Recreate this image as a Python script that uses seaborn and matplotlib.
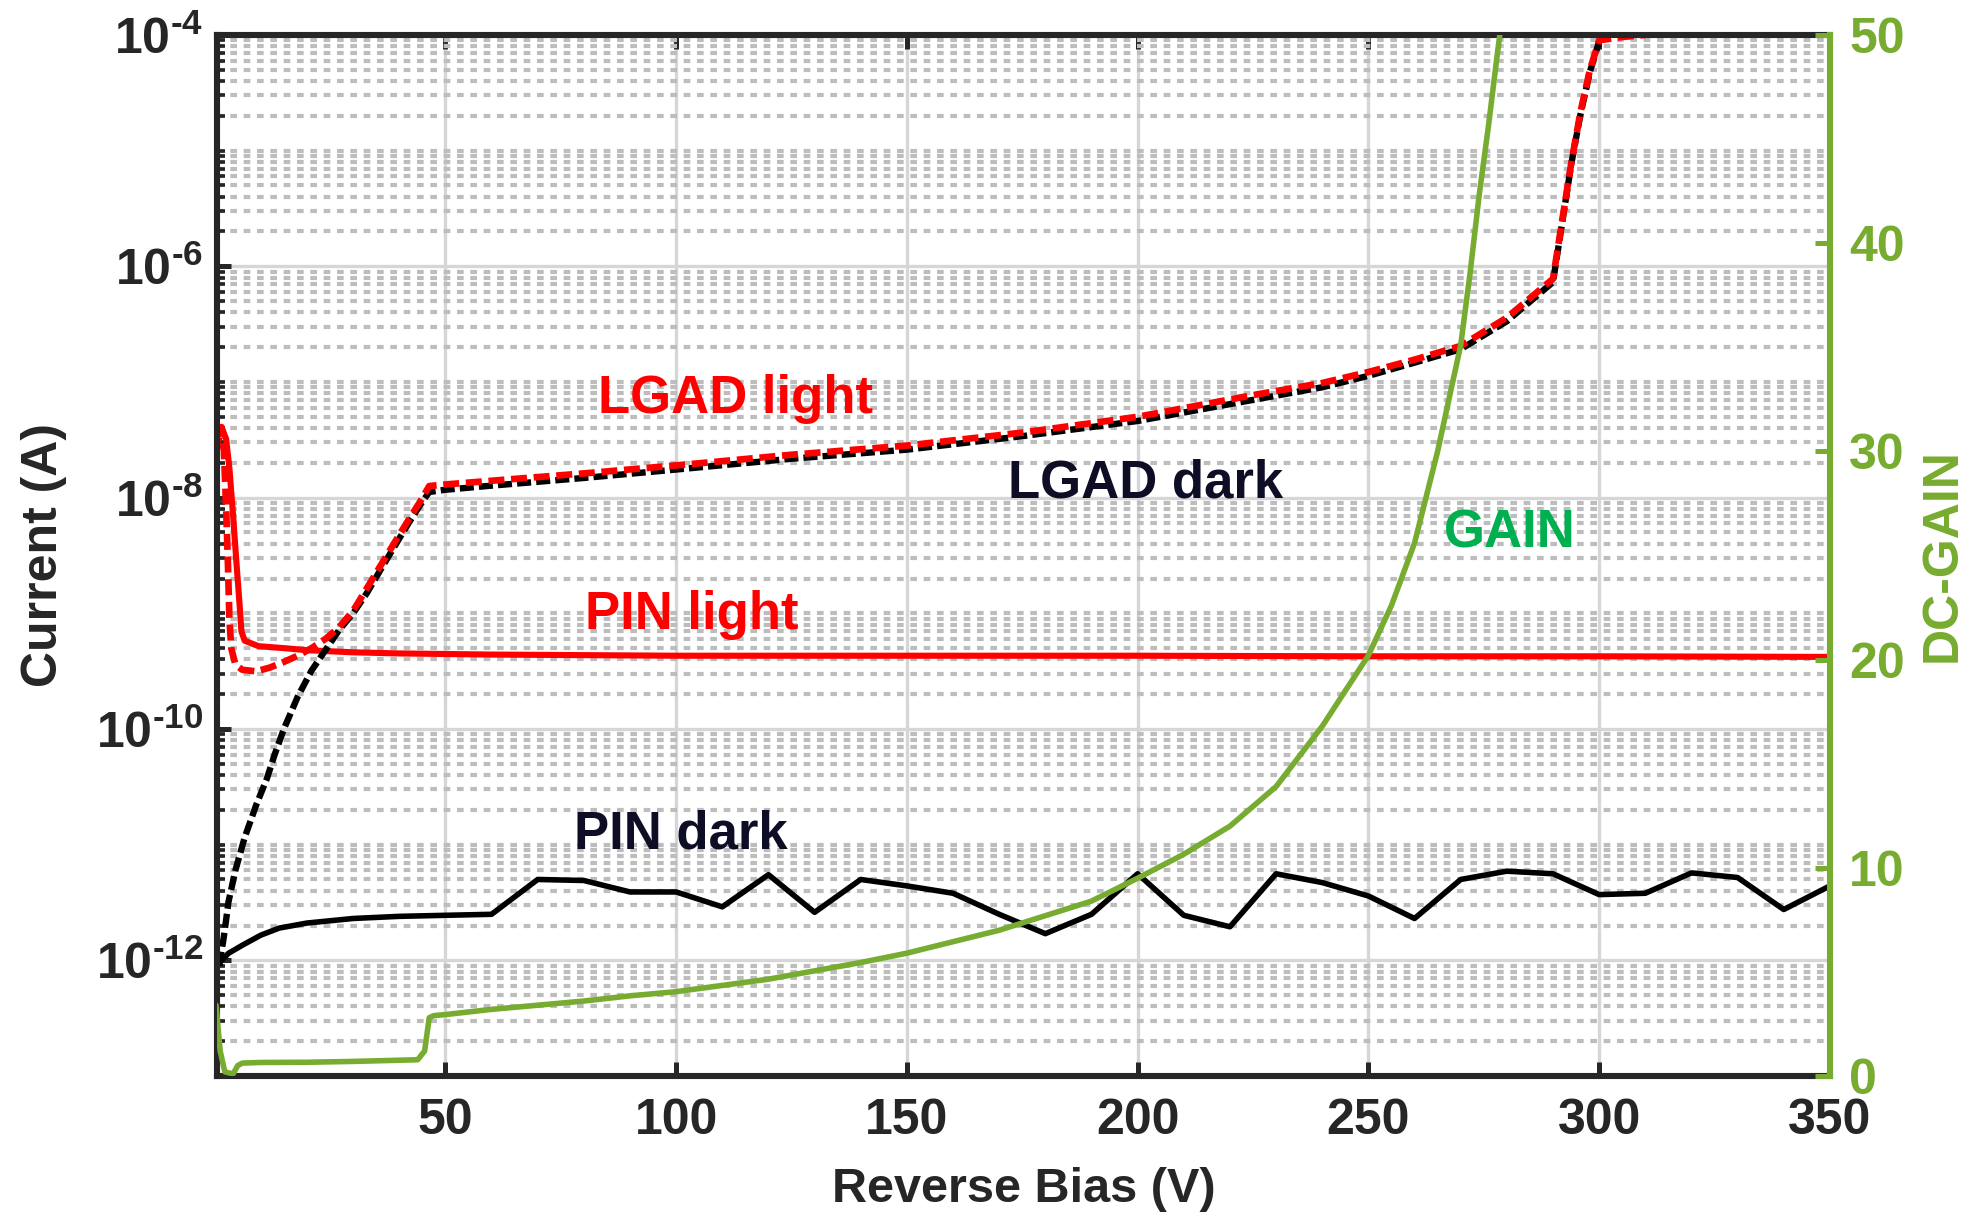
import matplotlib
matplotlib.use("Agg")
import matplotlib.pyplot as plt
import seaborn as sns
from matplotlib.ticker import FixedLocator, FixedFormatter, NullLocator, NullFormatter

# ---------------- data ----------------
# PIN diode, dark current (A) vs reverse bias (V)
pin_dark_v = [1, 3, 6, 10, 14, 20, 30, 40, 50, 60, 70, 80, 90, 100, 110, 120, 130, 140,
              150, 160, 170, 180, 190, 200, 210, 220, 230, 240, 250, 260, 270, 280, 290,
              300, 310, 320, 330, 340, 350]
pin_dark_i = [9.5e-13, 1.15e-12, 1.35e-12, 1.65e-12, 1.9e-12, 2.1e-12, 2.3e-12, 2.4e-12,
              2.45e-12, 2.5e-12, 5.0e-12, 4.9e-12, 3.9e-12, 3.9e-12, 2.9e-12, 5.5e-12,
              2.6e-12, 5.0e-12, 4.4e-12, 3.8e-12, 2.5e-12, 1.7e-12, 2.5e-12, 5.6e-12,
              2.45e-12, 1.95e-12, 5.6e-12, 4.7e-12, 3.6e-12, 2.3e-12, 5.0e-12, 5.9e-12,
              5.6e-12, 3.7e-12, 3.8e-12, 5.7e-12, 5.2e-12, 2.75e-12, 4.4e-12]

# PIN diode under illumination
pin_light_v = [0.5, 1.5, 2.5, 3.2, 4.0, 4.8, 5.4, 5.8, 6.5, 9.5, 15, 20, 30, 40, 60, 100,
               150, 200, 250, 300, 350]
pin_light_i = [3.4e-8, 4.1e-8, 3.2e-8, 1.8e-8, 7e-9, 2.5e-9, 1.2e-9, 7e-10, 5.8e-10,
               5.2e-10, 5.0e-10, 4.8e-10, 4.6e-10, 4.5e-10, 4.4e-10, 4.3e-10, 4.3e-10,
               4.3e-10, 4.25e-10, 4.25e-10, 4.2e-10]

# LGAD, dark current
lgad_dark_v = [1.0, 2.0, 3.0, 4.5, 6.5, 9, 11.3, 13, 15, 18, 21, 24, 27, 30, 33, 36, 39,
               42, 44.5, 46.5, 50, 60, 80, 100, 125, 150, 175, 200, 225, 240, 250, 260,
               270, 280, 290, 292, 294, 296, 298, 300]
lgad_dark_i = [9e-13, 1.6e-12, 3.2e-12, 6e-12, 1.15e-11, 2.2e-11, 3.7e-11, 6e-11, 1.0e-10,
               1.9e-10, 3.2e-10, 4.8e-10, 7.2e-10, 1.0e-9, 1.5e-9, 2.4e-9, 3.8e-9, 6.0e-9,
               8.6e-9, 1.12e-8, 1.17e-8, 1.27e-8, 1.48e-8, 1.75e-8, 2.17e-8, 2.6e-8,
               3.4e-8, 4.6e-8, 7.0e-8, 9.0e-8, 1.13e-7, 1.47e-7, 1.92e-7, 3.35e-7, 7.3e-7,
               2.4e-6, 7.8e-6, 2.1e-5, 4.8e-5, 8.8e-5]

# LGAD under illumination
lgad_light_v = [0.5, 1.2, 2.0, 2.5, 2.9, 3.2, 3.6, 4.5, 6, 9, 12, 15, 18, 21, 24, 27, 30,
                33, 36, 39, 42, 44.5, 46.5, 50, 60, 80, 100, 125, 150, 175, 200, 225,
                240, 250, 260, 270, 280, 290, 292, 294, 296, 298, 300, 305, 310]
lgad_light_i = [3.0e-8, 3.4e-8, 2.6e-8, 8e-9, 2.5e-9, 9e-10, 5e-10, 3.6e-10, 3.25e-10,
                3.15e-10, 3.4e-10, 3.8e-10, 4.3e-10, 5.0e-10, 6.0e-10, 7.6e-10, 1.05e-9,
                1.65e-9, 2.6e-9, 4.1e-9, 6.4e-9, 9.2e-9, 1.26e-8, 1.3e-8, 1.4e-8, 1.62e-8,
                1.9e-8, 2.35e-8, 2.82e-8, 3.65e-8, 5.0e-8, 7.7e-8, 9.8e-8, 1.22e-7,
                1.56e-7, 2.05e-7, 3.6e-7, 7.8e-7, 2.5e-6, 8e-6, 2.2e-5, 5e-5, 9.0e-5,
                9.6e-5, 1.0e-4]

# DC gain (right axis)
gain_v = [0.3, 1.2, 2.2, 4, 5, 6, 10, 20, 30, 44, 45.5, 46.5, 47.5, 50, 60, 70, 80, 90,
          100, 110, 120, 130, 140, 150, 160, 170, 180, 190, 200, 210, 220, 230, 240, 250,
          255, 260, 265, 270, 272, 274, 276, 278, 280]
gain_val = [3.4, 1.2, 0.2, 0.1, 0.5, 0.62, 0.65, 0.66, 0.7, 0.78, 1.2, 2.8, 2.9, 2.95,
            3.2, 3.4, 3.6, 3.85, 4.05, 4.35, 4.65, 5.05, 5.45, 5.9, 6.45, 7.0, 7.7, 8.4,
            9.5, 10.65, 12.0, 13.9, 16.8, 20.2, 22.6, 25.6, 30.0, 35.1, 38.5, 42.3, 45.6,
            49.2, 52.6]

# ticks
x_ticks = [50, 100, 150, 200, 250, 300, 350]
x_tick_labels = ["50", "100", "150", "200", "250", "300", "350"]
y_major = [1e-12, 1e-10, 1e-8, 1e-6, 1e-4]
y_tick_labels = ["$10^{\u201012}$", "$10^{\u201010}$", "$10^{\u20108}$",
                 "$10^{\u20106}$", "$10^{\u20104}$"]
gain_ticks = [0, 10, 20, 30, 40, 50]
gain_tick_labels = ["0", "10", "20", "30", "40", "50"]

# ---------------- style ----------------
sns.set_theme(style="white")
plt.rcParams["font.family"] = ["Liberation Sans", "DejaVu Sans"]
plt.rcParams["font.weight"] = "bold"
plt.rcParams["mathtext.fontset"] = "custom"
plt.rcParams["mathtext.rm"] = "Liberation Sans:bold"
plt.rcParams["mathtext.it"] = "Liberation Sans:bold"
plt.rcParams["mathtext.bf"] = "Liberation Sans:bold"
plt.rcParams["mathtext.default"] = "rm"

AX_COLOR = "#262626"
GREEN = "#77ac30"
DARK_TXT = "#0d0d26"

fig = plt.figure(figsize=(9.87, 6.115), dpi=200)
ax = fig.add_axes([0.1099, 0.1202, 0.8171, 0.8512])
ax.set_yscale("log")

# current curves
sns.lineplot(x=pin_dark_v, y=pin_dark_i, ax=ax, color="black", linewidth=2.0,
             estimator=None, sort=False, legend=False)
sns.lineplot(x=pin_light_v, y=pin_light_i, ax=ax, color="#ff0000", linewidth=2.2,
             estimator=None, sort=False, legend=False)
sns.lineplot(x=lgad_dark_v, y=lgad_dark_i, ax=ax, color="black", linewidth=2.3,
             linestyle=(0, (2.2, 0.8)), estimator=None, sort=False, legend=False)
sns.lineplot(x=lgad_light_v, y=lgad_light_i, ax=ax, color="#ff0000", linewidth=2.4,
             linestyle=(1.2, (2.4, 1.0)), estimator=None, sort=False, legend=False)

ax.set_xlim(0.5, 350)
ax.set_ylim(1e-13, 1e-4)

ax.xaxis.set_major_locator(FixedLocator(x_ticks))
ax.xaxis.set_major_formatter(FixedFormatter(x_tick_labels))
ax.xaxis.set_minor_locator(NullLocator())
ax.yaxis.set_major_locator(FixedLocator(y_major))
ax.yaxis.set_major_formatter(FixedFormatter(y_tick_labels))
y_minor = [m * 10.0 ** e for e in range(-13, -4) for m in range(1, 10)
           if not (m == 1 and 10.0 ** e in y_major)]
ax.yaxis.set_minor_locator(FixedLocator(y_minor))
ax.yaxis.set_minor_formatter(NullFormatter())

ax.set_axisbelow(True)
ax.grid(True, which="major", axis="both", color="#d6d6d6", linewidth=1.2, linestyle="-")
ax.grid(True, which="minor", axis="y", color="#bdbdbd", linewidth=1.5,
        linestyle=(0, (1.6, 1.6)))

ax.tick_params(axis="x", which="major", direction="in", length=5, width=1.8,
               top=True, bottom=True, labelsize=18, pad=8, colors=AX_COLOR)
ax.tick_params(axis="y", which="major", direction="in", length=5, width=1.8,
               left=True, right=False, labelsize=18, pad=5, colors=AX_COLOR)
ax.tick_params(axis="y", which="minor", direction="in", length=3, width=1.3,
               left=True, right=False, colors=AX_COLOR)

for side in ["left", "top", "bottom"]:
    ax.spines[side].set_color(AX_COLOR)
    ax.spines[side].set_linewidth(2.2)
ax.spines["right"].set_visible(False)

ax.set_xlabel("Reverse Bias (V)", fontsize=17.5, fontweight="bold", color=AX_COLOR)
ax.xaxis.set_label_coords(0.5, -0.0874)
ax.set_ylabel("Current (A)", fontsize=18, fontweight="bold", color=AX_COLOR)
ax.yaxis.set_label_coords(-0.093, 0.5)

# curve annotations
txt = dict(fontsize=19, fontweight="bold", ha="left", va="baseline")
ax.text(83.1, 5.4e-8, "LGAD light", color="#ff0000", **txt)
ax.text(171.9, 1.01e-8, "LGAD dark", color=DARK_TXT, **txt)
ax.text(80.2, 7.3e-10, "PIN light", color="#ff0000", **txt)
ax.text(77.8, 9.3e-12, "PIN dark", color=DARK_TXT, **txt)

# gain on the right axis
ax2 = ax.twinx()
sns.lineplot(x=gain_v, y=gain_val, ax=ax2, color=GREEN, linewidth=2.0,
             estimator=None, sort=False, legend=False)
ax2.set_ylim(0, 50)
ax2.yaxis.set_major_locator(FixedLocator(gain_ticks))
ax2.yaxis.set_major_formatter(FixedFormatter(gain_tick_labels))
ax2.tick_params(axis="y", which="major", direction="in", length=5.5, width=1.8,
                labelsize=18, pad=7, colors=GREEN)
for side in ["left", "top", "bottom"]:
    ax2.spines[side].set_visible(False)
ax2.spines["right"].set_color(GREEN)
ax2.spines["right"].set_linewidth(2.2)
ax2.set_ylabel("DC-GAIN", fontsize=18, fontweight="bold", color=GREEN, rotation=90)
ax2.yaxis.set_label_coords(1.0558, 0.5)
ax2.text(266.3, 25.4, "GAIN", color="#00b050", **txt)

fig.savefig("out.png", dpi=200)
